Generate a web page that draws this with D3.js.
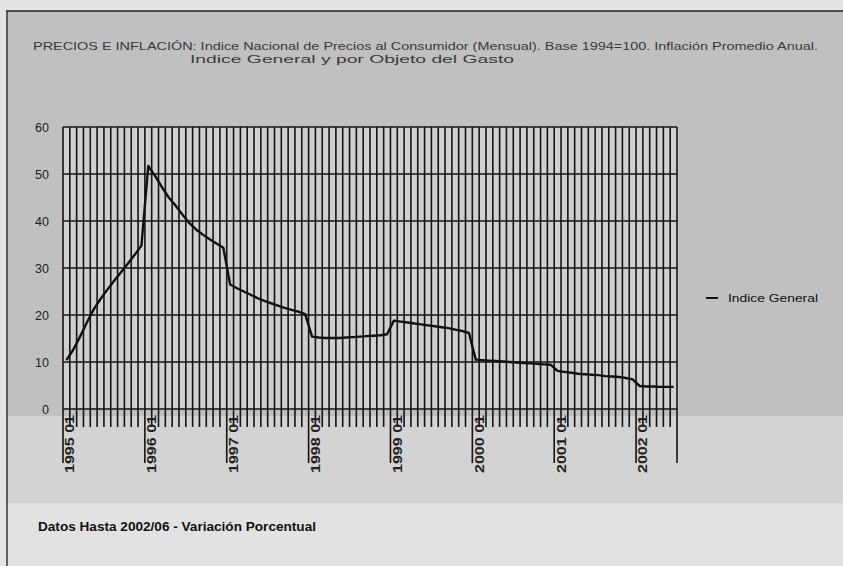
<!DOCTYPE html>
<html>
<head>
<meta charset="utf-8">
<script src="https://cdn.jsdelivr.net/npm/d3@7"></script>
<style>
  html, body { margin: 0; padding: 0; background: #e4e4e4; }
  svg { display: block; }
  text { font-family: "Liberation Sans", Arial, sans-serif; }
</style>
</head>
<body>
<svg id="chart" width="843" height="566"></svg>
<script>
// Monthly series, Jan 1995 .. Jun 2002
const years = [1995, 1996, 1997, 1998, 1999, 2000, 2001, 2002];
const monthsPerYear = [12, 12, 12, 12, 12, 12, 12, 6];
const indiceGeneral = [
  10.4, 12.6, 15.4, 18.4, 21.2, 23.4, 25.4, 27.3, 29.1, 30.9, 32.8, 34.8,
  51.7, 49.6, 47.2, 45.0, 43.3, 41.4, 39.6, 38.2, 37.1, 36.1, 35.2, 34.3,
  26.5, 25.7, 25.0, 24.3, 23.6, 23.0, 22.5, 22.0, 21.5, 21.1, 20.7, 20.2,
  15.4, 15.2, 15.1, 15.1, 15.1, 15.2, 15.3, 15.4, 15.5, 15.6, 15.7, 15.9,
  18.8, 18.6, 18.4, 18.2, 18.0, 17.8, 17.6, 17.4, 17.2, 16.9, 16.6, 16.2,
  10.5, 10.4, 10.3, 10.2, 10.1, 10.0, 9.9, 9.8, 9.7, 9.6, 9.5, 9.4,
  8.1, 7.9, 7.7, 7.5, 7.4, 7.3, 7.2, 7.0, 6.9, 6.8, 6.6, 6.3,
  4.9, 4.8, 4.8, 4.7, 4.7, 4.7
];
const yTicks = [0, 10, 20, 30, 40, 50, 60];
const titleLines = [
  "PRECIOS E INFLACIÓN: Indice Nacional de Precios al Consumidor (Mensual). Base 1994=100. Inflación Promedio Anual.",
  "Indice General y por Objeto del Gasto"
];
const seriesName = "Indice General";
const footer = "Datos Hasta 2002/06 - Variación Porcentual";

// category labels "YYYY MM"
const months = [];
years.forEach((yr, i) => {
  for (let m = 1; m <= monthsPerYear[i]; m++) months.push(yr + " " + String(m).padStart(2, "0"));
});
const data = months.map((m, i) => ({ m, v: indiceGeneral[i] }));

const svg = d3.select("#chart");

// sheet background and frame
svg.append("rect").attr("x", 7).attr("y", 11).attr("width", 836).attr("height", 492).attr("fill", "#c0c0c0");
svg.append("rect").attr("x", 7).attr("y", 416).attr("width", 836).attr("height", 87).attr("fill", "#d3d3d3");
svg.append("rect").attr("x", 7).attr("y", 503).attr("width", 836).attr("height", 63).attr("fill", "#e2e2e2");
svg.append("line").attr("x1", 6).attr("x2", 843).attr("y1", 11).attr("y2", 11).attr("stroke", "#222").attr("stroke-width", 1.5);
svg.append("line").attr("x1", 7).attr("x2", 7).attr("y1", 11).attr("y2", 566).attr("stroke", "#333").attr("stroke-width", 1.5);

const x = d3.scaleBand().domain(months).range([63, 677]).paddingInner(0).paddingOuter(0);
const y = d3.scaleLinear().domain([0, 60]).range([409, 127]);

// plot area
svg.append("rect")
  .attr("x", x.range()[0]).attr("y", y(60))
  .attr("width", x.range()[1] - x.range()[0]).attr("height", y(0) - y(60))
  .attr("fill", "#cfcfcf");

// title
titleLines.forEach((t, i) => {
  svg.append("text")
    .attr("x", i === 0 ? 33 : 190).attr("y", 50 + i * 13)
    .attr("font-size", i === 0 ? 10.5 : 10).attr("fill", "#3a3a3a")
    .attr("lengthAdjust", "spacingAndGlyphs")
    .attr("textLength", i === 0 ? 785 : 324)
    .text(t);
});

// vertical gridlines at category boundaries, with tick marks below the axis
const boundaries = d3.range(months.length + 1);
const bx = i => x.range()[0] + i * x.step();
svg.append("g").selectAll("line").data(boundaries).join("line")
  .attr("x1", bx).attr("x2", bx)
  .attr("y1", y(60))
  .attr("y2", i => (i % 12 === 0 || i === months.length) ? 463 : 427)
  .attr("stroke", "#141414").attr("stroke-width", 1.6);

// horizontal gridlines
svg.append("g").selectAll("line").data(yTicks).join("line")
  .attr("x1", x.range()[0]).attr("x2", x.range()[1])
  .attr("y1", d => y(d)).attr("y2", d => y(d))
  .attr("stroke", "#141414").attr("stroke-width", 1.6);

// y axis labels
const yAxis = svg.append("g").attr("transform", `translate(${x.range()[0]},0)`)
  .call(d3.axisLeft(y).tickValues(yTicks).tickSize(0).tickPadding(14).tickFormat(d3.format("d")));
yAxis.select(".domain").remove();
yAxis.selectAll("text").attr("font-size", 12.5).attr("fill", "#222")
  .attr("font-family", "\"Liberation Sans\", Arial, sans-serif");

// x axis labels, one per January, rotated
const xLabels = months.filter((m, i) => i % 12 === 0);
svg.append("g").selectAll("text").data(xLabels).join("text")
  .attr("transform", d => `translate(${x(d) + x.bandwidth() / 2 + 4},415) rotate(-90)`)
  .attr("text-anchor", "end").attr("dominant-baseline", "central")
  .attr("font-size", 12).attr("font-weight", "bold").attr("fill", "#222")
  .attr("textLength", 58).attr("lengthAdjust", "spacingAndGlyphs")
  .text(d => d);

// series line
const line = d3.line().x(d => x(d.m) + x.bandwidth() / 2).y(d => y(d.v));
svg.append("path").datum(data)
  .attr("d", line).attr("fill", "none")
  .attr("stroke", "#111").attr("stroke-width", 2.4).attr("stroke-linejoin", "round");

// legend
svg.append("line").attr("x1", 706).attr("x2", 718).attr("y1", 298).attr("y2", 298)
  .attr("stroke", "#111").attr("stroke-width", 2);
svg.append("text").attr("x", 728).attr("y", 302).attr("font-size", 11.5).attr("fill", "#111")
  .attr("textLength", 90).attr("lengthAdjust", "spacingAndGlyphs")
  .text(seriesName);

// footer note
svg.append("text").attr("x", 38).attr("y", 531).attr("font-size", 12).attr("font-weight", "bold")
  .attr("fill", "#111").attr("textLength", 278).attr("lengthAdjust", "spacingAndGlyphs")
  .text(footer);
</script>
</body>
</html>
